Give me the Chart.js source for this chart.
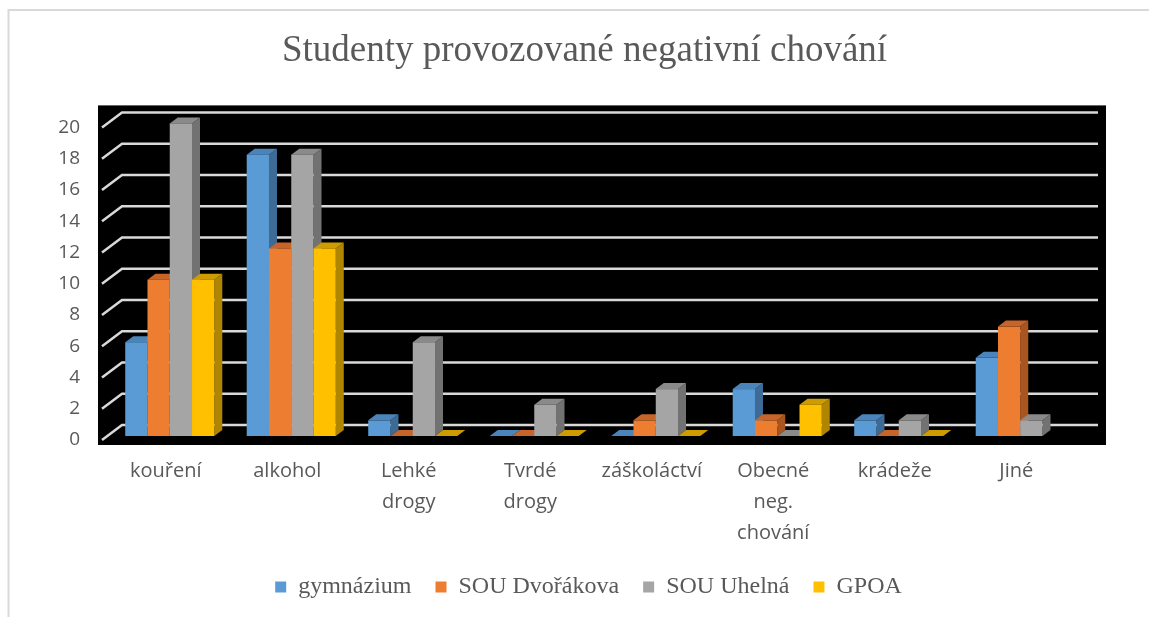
<!DOCTYPE html>
<html>
<head>
<meta charset="utf-8">
<script src="https://cdn.jsdelivr.net/npm/chart.js@4.4.1/dist/chart.umd.min.js"></script>
<style>
    html, body { margin: 0; padding: 0; background: #fff; }
    #wrap { position: relative; width: 1149px; height: 617px; }
</style>
</head>
<body>
<div id="wrap"><canvas id="chart-canvas"></canvas></div>
<script>
    // Data
    const categories = ['kouření', 'alkohol', ['Lehké', 'drogy'], ['Tvrdé', 'drogy'], 'záškoláctví', ['Obecné', 'neg.', 'chování'], 'krádeže', 'Jiné'];
    const seriesNames = ['gymnázium', 'SOU Dvořákova', 'SOU Uhelná', 'GPOA'];
    const gymnazium = [6, 18, 1, 0, 0, 3, 1, 5];
    const souDvorakova = [10, 12, 0, 0, 1, 1, 0, 7];
    const souUhelna = [20, 18, 6, 2, 3, 0, 1, 1];
    const gpoa = [10, 12, 0, 0, 0, 2, 0, null];
    const yTicks = [0, 2, 4, 6, 8, 10, 12, 14, 16, 18, 20];

    // front / side / top colours for each series
    const faceColors = [
        { front: '#5b9bd5', side: '#3d6b96', top: '#4b84ba' },   // blue
        { front: '#ed7d31', side: '#a85520', top: '#c6642a' },   // orange
        { front: '#a5a5a5', side: '#727272', top: '#8a8a8a' },   // gray
        { front: '#ffc000', side: '#b08500', top: '#cf9c00' }    // yellow
    ];
    const DX = 8, DY = -6;   // bar depth

    const textGray = '#595959';
    const gridGray = '#d9d9d9';

    // black plot area, gridlines with the side-wall diagonals, outer border
    const backdrop = {
        id: 'backdrop',
        beforeDraw(chart) {
            const ctx = chart.ctx;
            ctx.save();
            ctx.strokeStyle = gridGray;
            ctx.lineWidth = 2;
            ctx.beginPath();
            ctx.moveTo(8, 10);
            ctx.lineTo(chart.width, 10);
            ctx.moveTo(8.5, 9);
            ctx.lineTo(8.5, chart.height);
            ctx.stroke();
            ctx.restore();
        },
        beforeDatasetsDraw(chart) {
            const ctx = chart.ctx;
            const ca = chart.chartArea;
            const ys = chart.scales.y;
            ctx.save();
            ctx.fillStyle = '#000';
            ctx.fillRect(ca.left - 11, ca.top - 18, (ca.right + 25) - (ca.left - 11), (ca.bottom + 9) - (ca.top - 18));
            ctx.strokeStyle = gridGray;
            ctx.lineWidth = 2.5;
            ys.ticks.forEach(t => {
                const y = ys.getPixelForValue(t.value);
                ctx.beginPath();
                ctx.moveTo(ca.left - 7, y + 4);
                ctx.lineTo(ca.left + 13, y - 11);
                ctx.lineTo(ca.right + 17, y - 11);
                ctx.stroke();
            });
            ctx.restore();
        },
        beforeDatasetDraw() {
            return false;   // bars are drawn as 3D boxes below
        },
        afterDatasetsDraw(chart) {
            const ctx = chart.ctx;
            const metas = chart.data.datasets.map((d, i) => chart.getDatasetMeta(i));
            ctx.save();
            categories.forEach((c, i) => {
                metas.forEach((meta, d) => {
                    const val = chart.data.datasets[d].data[i];
                    if (val === null || val === undefined) return;
                    const bar = meta.data[i];
                    const { x, y, base, width } = bar.getProps(['x', 'y', 'base', 'width'], true);
                    const l = x - width / 2, r = x + width / 2;
                    const col = faceColors[d];
                    // side
                    if (base - y > 0) {
                        ctx.fillStyle = col.side;
                        ctx.beginPath();
                        ctx.moveTo(r, base);
                        ctx.lineTo(r + DX, base + DY);
                        ctx.lineTo(r + DX, y + DY);
                        ctx.lineTo(r, y);
                        ctx.closePath();
                        ctx.fill();
                    }
                    // top
                    ctx.fillStyle = col.top;
                    ctx.beginPath();
                    ctx.moveTo(l, y);
                    ctx.lineTo(l + DX, y + DY);
                    ctx.lineTo(r + DX, y + DY);
                    ctx.lineTo(r, y);
                    ctx.closePath();
                    ctx.fill();
                    // front
                    if (base - y > 0) {
                        ctx.fillStyle = col.front;
                        ctx.fillRect(l, y, width, base - y);
                    }
                });
            });
            ctx.restore();
        },
        afterLayout(chart) {
            // title and legend sit a bit right of the canvas centre in the reference
            const tb = chart.titleBlock;
            tb.left += 24; tb.right += 24;
            const lg = chart.legend;
            lg.left += 28; lg.right += 28;
            lg.top += 6; lg.bottom += 6;
        }
    };

    const chartCanvas = document.getElementById('chart-canvas');
    const resultChart = new Chart(chartCanvas, {
        type: 'bar',
        data: {
            labels: categories,
            datasets: [
                { label: seriesNames[0], data: gymnazium, backgroundColor: faceColors[0].front },
                { label: seriesNames[1], data: souDvorakova, backgroundColor: faceColors[1].front },
                { label: seriesNames[2], data: souUhelna, backgroundColor: faceColors[2].front },
                { label: seriesNames[3], data: gpoa, backgroundColor: faceColors[3].front }
            ]
        },
        options: {
            responsive: true,
            maintainAspectRatio: false,
            animation: false,
            categoryPercentage: 0.733,
            barPercentage: 1,
            layout: { padding: { left: 40, right: 68, top: 10, bottom: 14 } },
            plugins: {
                title: {
                    display: true,
                    text: 'Studenty provozované negativní chování',
                    color: textGray,
                    font: { family: 'Liberation Serif', size: 37, weight: 'normal' },
                    padding: { top: 19, bottom: 50 }
                },
                legend: {
                    position: 'bottom',
                    labels: {
                        color: textGray,
                        font: { family: 'Liberation Serif', size: 24 },
                        boxWidth: 11,
                        boxHeight: 11,
                        padding: 24
                    }
                },
                tooltip: { enabled: false }
            },
            scales: {
                x: {
                    afterFit(scale) {
                        scale.height = 109;
                    },
                    grid: { display: false, drawTicks: false },
                    border: { display: false },
                    ticks: {
                        color: textGray,
                        font: { family: 'Open Sans', size: 20, lineHeight: 1.55 },
                        padding: 20,
                        labelOffset: -4,
                        maxRotation: 0,
                        autoSkip: false
                    }
                },
                y: {
                    min: 0,
                    max: 20,
                    afterBuildTicks(scale) {
                        scale.ticks = yTicks.map(v => ({ value: v }));
                    },
                    afterFit(scale) {
                        scale.width = 69;
                    },
                    grid: { display: false, drawTicks: false },
                    border: { display: false },
                    ticks: {
                        color: textGray,
                        font: { family: 'Open Sans', size: 19 },
                        padding: 29,
                        labelOffset: 4
                    }
                }
            }
        },
        plugins: [backdrop]
    });
</script>
</body>
</html>
